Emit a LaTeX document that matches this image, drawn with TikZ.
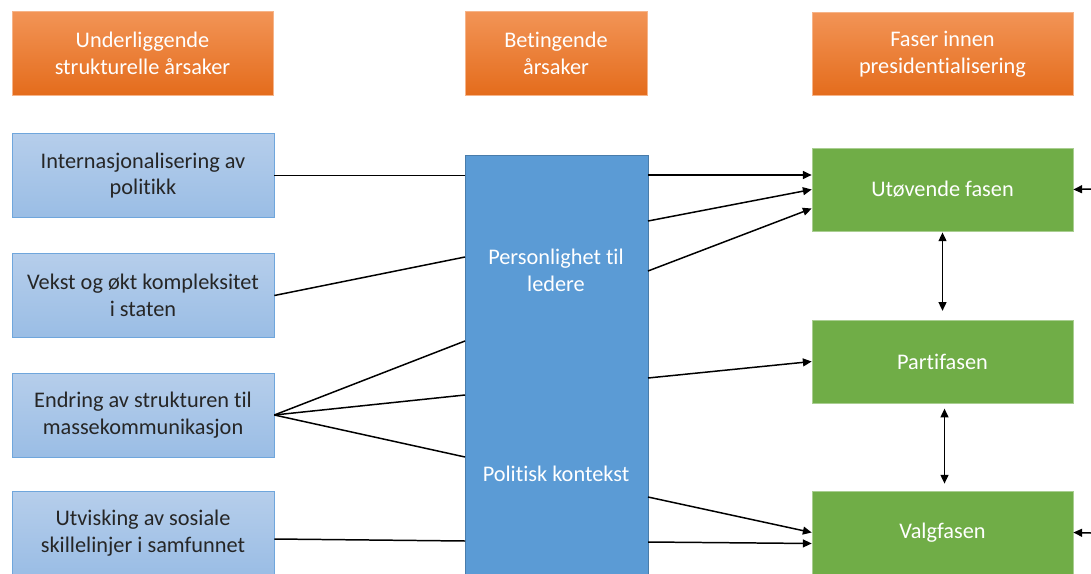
\documentclass[tikz,border=0pt]{standalone}
\usepackage{fontspec}
\setmainfont{Carlito}[Ligatures=NoCommon]
\usetikzlibrary{arrows.meta,calc}

\definecolor{orangetop}{HTML}{F29456}
\definecolor{orangebot}{HTML}{E46C1C}
\definecolor{bluetop}{HTML}{B6CEEB}
\definecolor{bluebot}{HTML}{9ABDE5}
\definecolor{blueline}{HTML}{6FA6DC}
\definecolor{bluemid}{HTML}{5B9BD5}
\definecolor{greenbox}{HTML}{70AD47}

\begin{document}
\begin{tikzpicture}[x=0.02cm,y=-0.02cm,
  txt/.style={align=center,font=\fontsize{12.7}{15.3}\selectfont},
  head/.style={txt,rectangle,inner sep=0pt,minimum height=1.67cm,
    top color=orangetop,bottom color=orangebot,draw=orangetop!70!white,thin,text=white},
  cause/.style={txt,rectangle,inner sep=0pt,minimum width=5.24cm,minimum height=1.68cm,
    top color=bluetop,bottom color=bluebot,draw=blueline,thin,text=black!85},
  phase/.style={txt,rectangle,inner sep=0pt,minimum width=5.22cm,minimum height=1.66cm,
    fill=greenbox,draw=greenbox!60!white,thin,text=white},
  link/.style={line width=0.85pt,black},
  arr/.style={link,-{Triangle[length=5pt,width=4.5pt]}},
  both/.style={link,{Triangle[length=5pt,width=4.5pt]}-{Triangle[length=5pt,width=4.5pt]}}]

\useasboundingbox (0,0) rectangle (1091,574);
\clip (0,0) rectangle (1091,574);

\node[head,minimum width=5.22cm] (h1) at (142.5,53.5) {Underliggende\\strukturelle årsaker};
\node[head,minimum width=3.64cm] (h2) at (556,53.5) {Betingende\\årsaker};
\node[head,minimum width=5.22cm] (h3) at (942.5,54) {Faser innen\\presidentialisering};

\node[cause] (int) at (143,175.5) {Internasjonalisering av\\politikk};
\node[cause] (vekst) at (143,295.5) {Vekst og økt kompleksitet\\i staten};
\node[cause] (endr) at (143,415) {Endring av strukturen til\\massekommunikasjon};
\node[cause] (utv) at (143,533) {Utvisking av sosiale\\skillelinjer i samfunnet};

\draw[fill=bluemid,draw=bluemid!80!black,thin] (465,155) rectangle (648,600);
\node[txt,text=white] (pers) at (556,270) {Personlighet til\\ledere};
\node[txt,text=white] (pol) at (556,474) {Politisk kontekst};

\node[phase] (utov) at (942.5,189.5) {Utøvende fasen};
\node[phase] (parti) at (942.5,361.5) {Partifasen};
\node[phase] (valg) at (942.5,532.5) {Valgfasen};

\foreach \n/\y in {a/257,b/341,c/395,d/457,e/541}
  \coordinate (in\n) at (465,\y);
\foreach \n/\y in {a/175,b/221,c/271,d/378,e/497,f/542}
  \coordinate (out\n) at (648,\y);
\coordinate (ra) at (1091,189);
\coordinate (rb) at (1091,533);

\draw[link] (int.east) -- (int.east -| ina);
\draw[link] (vekst.east) -- (ina);
\foreach \n in {b,c,d}
  \draw[link] (endr.east) -- (in\n);
\draw[link] ($(utv.east)+(0,6)$) -- (ine);

\draw[arr] (outa) -- (outa -| utov.west);
\draw[arr] (outb) -- (utov.west);
\draw[arr] (outc) -- ($(utov.west)+(0,19)$);
\draw[arr] (outd) -- (parti.west);
\draw[arr] (oute) -- (valg.west);
\draw[arr] (outf) -- ($(valg.west)+(0,11)$);

\draw[both,shorten <=0.6pt,shorten >=5pt] (utov.south) -- (parti.north);
\draw[both,shorten <=3pt,shorten >=4pt] ($(parti.south)+(2,0)$) -- ($(valg.north)+(2,0)$);

\draw[arr] (ra) -- (utov.east);
\draw[arr] (rb) -- (valg.east);

\end{tikzpicture}
\end{document}
